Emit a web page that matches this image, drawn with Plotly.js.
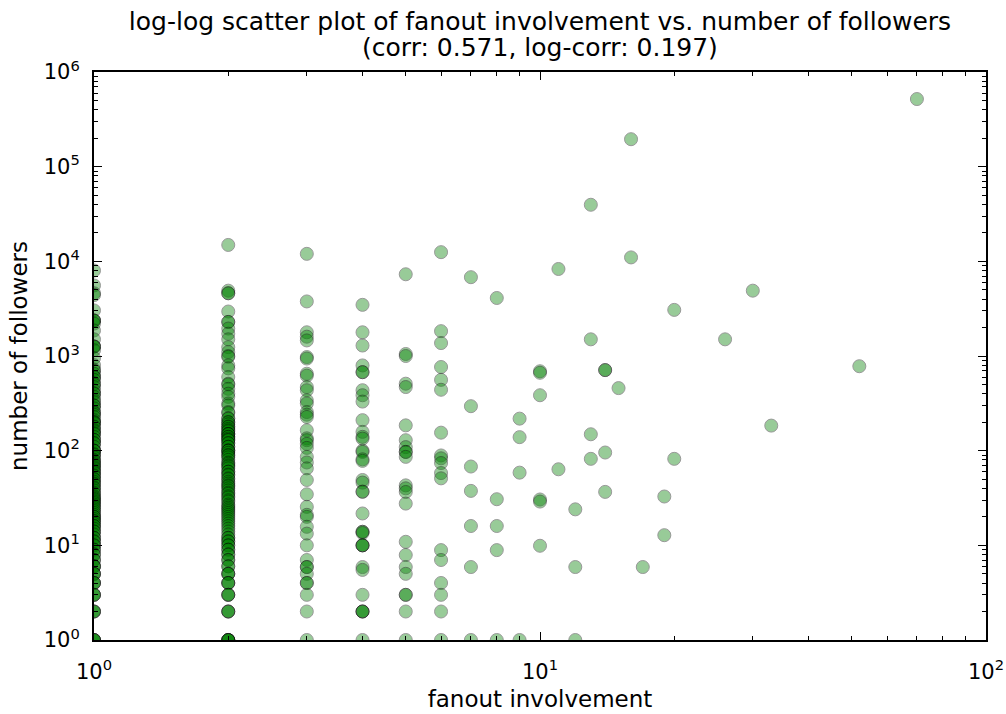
<!DOCTYPE html>
<html>
<head>
<meta charset="utf-8">
<script src="https://cdn.plot.ly/plotly-3.0.1.min.js"></script>
<style>html,body{margin:0;padding:0;background:#fff;}#chart{width:1006px;height:714px;}</style>
</head>
<body>
<div id="chart"></div>
<script>
// followers per fanout-involvement value
const followers_f1 = [8000, 5560, 4600, 4400, 3030, 2370, 2370, 2370, 2200, 1860, 1500, 1260, 1260, 1260, 1150, 950, 800, 720, 700, 650, 600, 600, 560, 515, 500, 470, 430, 404, 400, 370, 340, 325, 300, 300, 280, 256, 250, 240, 227, 210, 200, 200, 195, 180, 178, 165, 160, 153, 150, 140, 130, 130, 120, 120, 110, 100, 100, 100, 92, 90, 85, 80, 78, 75, 72, 70, 67, 65, 62, 60, 58, 55, 54, 50, 50, 47, 45, 44, 41, 40, 38, 36, 35, 33, 32, 31, 30, 29, 28, 27, 26, 25, 24, 23, 22, 21, 20, 20, 19, 18, 18, 17, 16, 16, 15, 14, 14, 13, 12, 12, 11, 11, 10, 10, 9, 9, 8, 8, 7, 7, 6, 6, 6, 5, 5, 5, 4, 4, 4, 3, 3, 3, 2, 2, 2, 1, 1, 1, 1];
const followers_f2 = [14900, 4900, 4600, 4600, 2950, 2290, 2290, 1950, 1720, 1500, 1240, 1100, 1000, 980, 795, 740, 600, 510, 500, 450, 400, 370, 315, 300, 256, 250, 220, 218, 200, 200, 190, 180, 178, 170, 164, 160, 150, 150, 150, 140, 140, 134, 130, 129, 120, 120, 110, 110, 101, 100, 100, 95, 90, 89, 85, 80, 75, 73, 70, 68, 65, 60, 60, 56, 55, 51, 50, 47, 45, 43, 42, 40, 38, 36, 35, 33, 32, 30, 29, 27, 26, 25, 24, 23, 22, 21, 20, 19, 18, 17, 16, 15, 14, 13, 12, 12, 11, 11, 10, 10, 9, 9, 8, 8, 7, 7, 6, 6, 5, 5, 5, 4, 4, 4, 3, 3, 3, 2, 2, 2, 1, 1, 1, 1, 1];
const followers_f3 = [12000, 3770, 1780, 1600, 1460, 975, 940, 650, 620, 470, 435, 340, 315, 256, 240, 227, 164, 135, 129, 118, 107, 86, 75, 65, 49, 34.6, 25.5, 21, 20, 15.7, 13.3, 10, 7, 5.9, 5.9, 5, 4, 4, 3, 2, 1];
const followers_f4 = [3470, 1780, 1290, 795, 675, 675, 435, 385, 330, 210, 158, 140, 134, 100, 97, 81, 78, 49, 46, 37, 36.7, 21.7, 13.9, 13.9, 13.5, 10, 10, 10, 5.9, 5.5, 3, 2, 2, 2, 1];
const followers_f5 = [7300, 1050, 1000, 510, 470, 185, 129, 109, 97, 97, 86, 43, 40, 36.6, 27.6, 10.9, 7.9, 5.9, 5.0, 3, 3, 2, 1];
const followers_f6 = [12500, 1830, 1370, 765, 560, 440, 155, 89, 83, 74, 58, 51, 8.9, 7, 4, 3, 2, 1];
// sparse points with fanout >= 7
const sparse_fanout =    [7, 7, 7, 7, 7, 7, 7, 8, 8, 8, 8, 8, 9, 9, 9, 9, 10, 10, 10, 10, 10, 10, 11, 11, 12, 12, 12, 13, 13, 13, 13, 14, 14, 14, 14, 15, 16, 16, 17, 19, 19, 20, 20, 26, 30, 33, 52, 70];
const sparse_followers = [6800, 295, 68, 37.6, 16, 5.9, 1, 4100, 30.7, 16, 8.9, 1, 218, 139, 58.6, 1, 690, 665, 385, 30.5, 29, 9.9, 8300, 63.6, 24, 5.9, 1, 39600, 1500, 149, 82, 710, 710, 95.6, 36.7, 458, 195000, 11000, 5.9, 32.8, 12.8, 3070, 82, 1500, 4900, 184, 780, 518000];

const xTickVals = [1, 10, 100];
const xTickText = ['10<sup>0</sup>', '10<sup>1</sup>', '10<sup>2</sup>'];
const yTickVals = [1, 10, 100, 1000, 10000, 100000, 1000000];
const yTickText = ['10<sup>0</sup>', '10<sup>1</sup>', '10<sup>2</sup>', '10<sup>3</sup>', '10<sup>4</sup>', '10<sup>5</sup>', '10<sup>6</sup>'];
const titleLine1 = 'log-log scatter plot of fanout involvement vs. number of followers';
const titleLine2 = '(corr: 0.571, log-corr: 0.197)';

const groups = [[1, followers_f1], [2, followers_f2], [3, followers_f3], [4, followers_f4], [5, followers_f5], [6, followers_f6]];
const xs = [], ys = [];
groups.forEach(([f, arr]) => arr.forEach(v => { xs.push(f); ys.push(v); }));
sparse_fanout.forEach((f, i) => { xs.push(f); ys.push(sparse_followers[i]); });

function minorTicks(d0, d1) {
  const out = [];
  for (let d = d0; d < d1; d++) for (let m = 2; m <= 9; m++) out.push(m * Math.pow(10, d));
  return out;
}

const fam = 'DejaVu Sans, sans-serif';
const tickFont = {family: fam, size: 21, color: '#000'};
const labelFont = {family: fam, size: 23, color: '#000'};
const titleFont = {family: fam, size: 25, color: '#000'};

const trace = {
  type: 'scatter', mode: 'markers', x: xs, y: ys,
  marker: {size: 13, color: '#008000', opacity: 0.4, line: {color: '#000', width: 1}},
  cliponaxis: true, hoverinfo: 'x+y'
};

const axisCommon = {
  type: 'log', showgrid: false, zeroline: false, showline: true, linecolor: '#000', linewidth: 2,
  mirror: 'allticks', ticks: 'inside', ticklen: 8, tickwidth: 1, tickcolor: '#000',
  tickmode: 'array', tickfont: tickFont
};

const layout = {
  width: 1006, height: 714,
  margin: {l: 94, r: 20, t: 72, b: 74},
  paper_bgcolor: '#fff', plot_bgcolor: '#fff',
  font: tickFont, showlegend: false,
  title: {text: titleLine1, font: titleFont, x: 0.5, xref: 'paper', xanchor: 'center',
          y: 1 - 21 / 714, yref: 'container', yanchor: 'middle'},
  annotations: [{text: titleLine2, font: titleFont, showarrow: false, xref: 'paper', yref: 'paper',
                 x: 0.5, xanchor: 'center', y: 1 + (72 - 47) / 568, yanchor: 'middle'}],
  xaxis: Object.assign({}, axisCommon, {
    range: [0, 2], tickvals: xTickVals, ticktext: xTickText, ticklabelstandoff: 12,
    minor: {tickmode: 'array', tickvals: minorTicks(0, 2), ticks: 'inside', ticklen: 4, tickwidth: 1, tickcolor: '#000', showgrid: false},
    title: {text: 'fanout involvement', font: labelFont, standoff: 8}
  }),
  yaxis: Object.assign({}, axisCommon, {
    range: [0, 6], tickvals: yTickVals, ticktext: yTickText, ticklabelstandoff: 8,
    minor: {tickmode: 'array', tickvals: minorTicks(0, 6), ticks: 'inside', ticklen: 4, tickwidth: 1, tickcolor: '#000', showgrid: false},
    title: {text: 'number of followers', font: labelFont, standoff: 10}
  })
};

Plotly.newPlot('chart', [trace], layout, {displayModeBar: false, staticPlot: true});
</script>
</body>
</html>
